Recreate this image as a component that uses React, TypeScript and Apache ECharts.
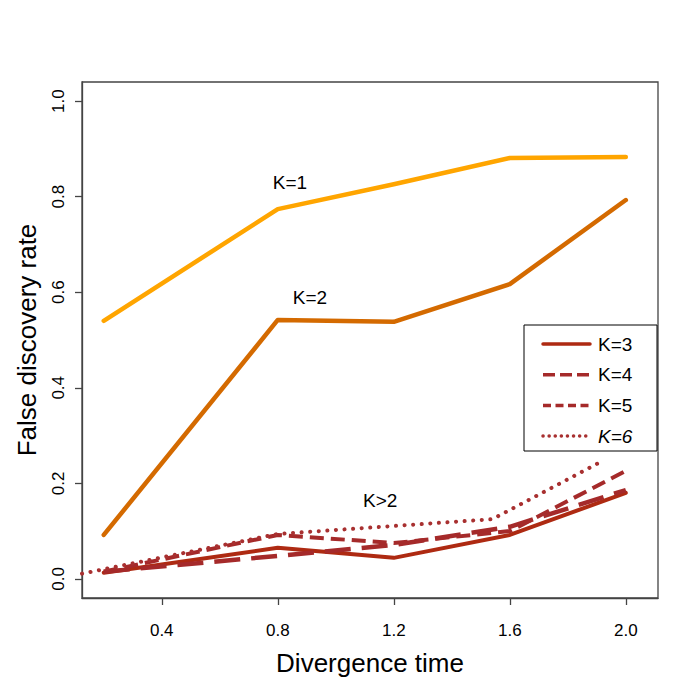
import React, { useEffect, useRef } from "react";
import * as echarts from "echarts";

const xValues = [0.2, 0.8, 1.2, 1.6, 2.0];
const k1 = [0.54, 0.774, 0.826, 0.881, 0.883];
const k2 = [0.092, 0.542, 0.538, 0.617, 0.793];
const k3 = [0.013, 0.065, 0.044, 0.092, 0.18];
const k4 = [0.015, 0.048, 0.071, 0.109, 0.186];
const k5 = [0.015, 0.092, 0.075, 0.1, 0.226];
const k6x = [0.125, 0.8, 1.54, 1.92];
const k6 = [0.011, 0.094, 0.125, 0.247];
const xTicks = [0.4, 0.8, 1.2, 1.6, 2.0];
const yTicks = [0, 0.2, 0.4, 0.6, 0.8, 1.0];
const annotations: [number, number, string][] = [
  [0.842, 0.83, "K=1"],
  [0.911, 0.59, "K=2"],
  [1.153, 0.165, "K>2"],
];
const legendNames = ["K=3", "K=4", "K=5", "K=6"];

const FONT = "'Liberation Sans', Arial, Helvetica, sans-serif";

function pairs(xs: number[], ys: number[]) {
  return xs.map((x, i) => [x, ys[i]]);
}

export default function App() {
  const ref = useRef<HTMLDivElement>(null);
  useEffect(() => {
    if (!ref.current) return;
    const chart = echarts.init(ref.current, undefined, { renderer: "svg" });
    const axisColor = "#444";
    const styles: Record<string, { color: string; width: number; dash: any; cap: any; lDash: any }> = {
      "K=3": { color: "#AE2A12", width: 4, dash: "solid", cap: "round", lDash: null },
      "K=4": { color: "#A52A2A", width: 4.5, dash: [26, 11], cap: "butt", lDash: [12, 5] },
      "K=5": { color: "#A52A2A", width: 4, dash: [14, 7], cap: "butt", lDash: [8, 4.5] },
      "K=6": { color: "#A83030", width: 4, dash: [0.1, 8.5], cap: "round", lDash: [0.1, 6] },
    };
    const lineSeries = (name: string, data: number[][], color: string, width: number, type: any, cap: any = "butt") => ({
      name,
      type: "line",
      data,
      symbol: "none",
      color,
      lineStyle: { color, width, type, cap, join: "round" },
      z: 3,
    });
    chart.setOption({
      animation: false,
      backgroundColor: "#fff",
      textStyle: { fontFamily: FONT },
      grid: {
        left: 82,
        top: 82,
        width: 576,
        height: 516,
        show: true,
        borderColor: axisColor,
        borderWidth: 1.3,
        backgroundColor: "transparent",
      },
      xAxis: {
        type: "value",
        min: 0.125,
        max: 2.111,
        name: "Divergence time",
        nameLocation: "middle",
        nameGap: 52,
        nameTextStyle: { fontSize: 26, color: "#000", fontFamily: FONT },
        axisLine: { show: true, onZero: false, lineStyle: { color: axisColor, width: 1.3 } },
        axisTick: { show: true, length: 7, customValues: xTicks, lineStyle: { color: axisColor, width: 1.3 } },
        axisLabel: {
          customValues: xTicks,
          formatter: (v: number) => v.toFixed(1),
          fontSize: 17,
          color: "#000",
          margin: 24,
          fontFamily: FONT,
        },
        splitLine: { show: false },
      },
      yAxis: {
        type: "value",
        min: -0.04,
        max: 1.04,
        name: "False discovery rate",
        nameLocation: "middle",
        nameGap: 42,
        nameRotate: 90,
        nameTextStyle: { fontSize: 26, color: "#000", fontFamily: FONT },
        axisLine: { show: true, onZero: false, lineStyle: { color: axisColor, width: 1.3 } },
        axisTick: { show: true, length: 7, customValues: yTicks, lineStyle: { color: axisColor, width: 1.3 } },
        axisLabel: {
          customValues: yTicks,
          formatter: (v: number) => v.toFixed(1),
          fontSize: 17,
          color: "#000",
          margin: 15,
          rotate: 90,
          fontFamily: FONT,
        },
        splitLine: { show: false },
      },
      series: [
        lineSeries("K=1", pairs(xValues, k1), "#FFA500", 4.5, "solid", "round"),
        lineSeries("K=2", pairs(xValues, k2), "#D46A00", 4.5, "solid", "round"),
        lineSeries("K=3", pairs(xValues, k3), styles["K=3"].color, styles["K=3"].width, "solid", "round"),
        lineSeries("K=4", pairs(xValues, k4), styles["K=4"].color, styles["K=4"].width, styles["K=4"].dash),
        lineSeries("K=5", pairs(xValues, k5), styles["K=5"].color, styles["K=5"].width, styles["K=5"].dash),
        lineSeries("K=6", pairs(k6x, k6), styles["K=6"].color, styles["K=6"].width, styles["K=6"].dash, "round"),
      ],
    });

    const texts = annotations.map(([x, y, t]) => {
      const p = chart.convertToPixel({ gridIndex: 0 }, [x, y]) as number[];
      return {
        type: "text",
        x: p[0],
        y: p[1],
        z: 10,
        style: {
          text: t,
          fill: "#000",
          font: `19px ${FONT}`,
          align: "center",
          verticalAlign: "middle",
        },
      };
    });

    const lx = 524, ly = 325, lw = 133, lh = 126;
    const legendEls: any[] = [
      {
        type: "rect",
        shape: { x: lx, y: ly, width: lw, height: lh },
        style: { fill: "#fff", stroke: "#000", lineWidth: 1 },
        z: 20,
      },
    ];
    legendNames.forEach((name, i) => {
      const s = styles[name];
      const cy = 344 + i * 30.7;
      legendEls.push({
        type: "line",
        shape: { x1: 543, y1: cy, x2: 590, y2: cy },
        style: {
          stroke: s.color,
          lineWidth: 3.5,
          lineDash: s.lDash,
          lineCap: name === "K=3" || name === "K=6" ? "round" : "butt",
        },
        z: 21,
      });
      legendEls.push({
        type: "text",
        x: 598,
        y: cy,
        z: 21,
        style: {
          text: name,
          fill: "#000",
          font: `${name === "K=6" ? "italic " : ""}19px ${FONT}`,
          align: "left",
          verticalAlign: "middle",
        },
      });
    });

    chart.setOption({ graphic: [...texts, ...legendEls] });
    return () => chart.dispose();
  }, []);
  return (
    <div
      ref={ref}
      style={{ position: "fixed", left: 0, top: 0, width: 700, height: 700, background: "#fff" }}
    />
  );
}
